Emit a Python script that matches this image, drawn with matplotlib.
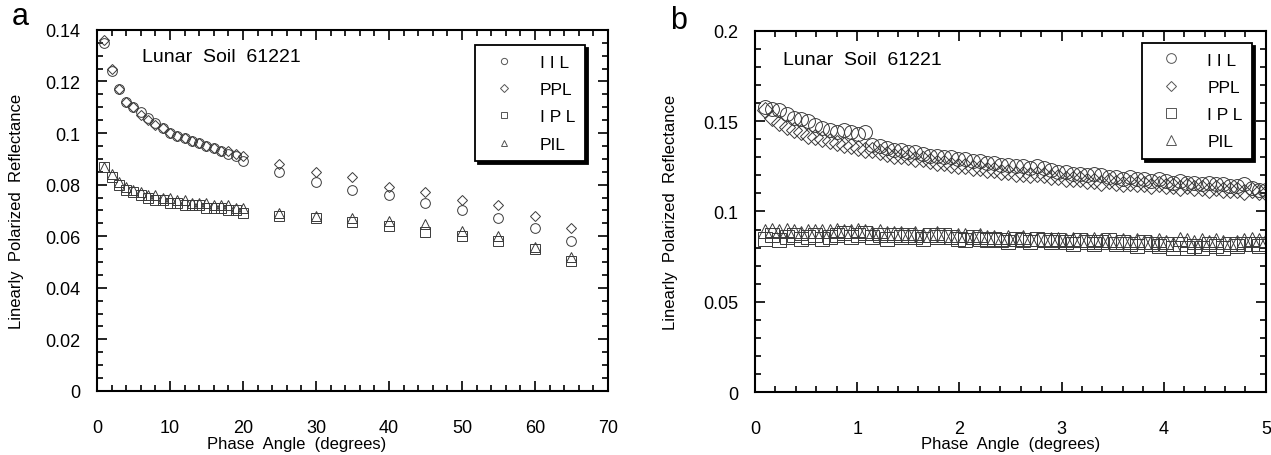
import numpy as np
import matplotlib.pyplot as plt
from matplotlib.lines import Line2D
from matplotlib.ticker import MultipleLocator, FuncFormatter

plt.rcParams['font.family'] = ['Liberation Sans', 'DejaVu Sans']

# ---- panel a data (phase angle 1..20 and 25..65 deg)
phase_a = [1, 2, 3, 4, 5, 6, 7, 8, 9, 10, 11, 12, 13, 14, 15, 16, 17, 18, 19, 20,
           25, 30, 35, 40, 45, 50, 55, 60, 65]
iil_a = [0.135, 0.124, 0.117, 0.112, 0.110, 0.108, 0.106, 0.104, 0.102, 0.100,
         0.099, 0.098, 0.097, 0.096, 0.095, 0.094, 0.093, 0.092, 0.091, 0.089,
         0.085, 0.081, 0.078, 0.076, 0.073, 0.070, 0.067, 0.063, 0.058]
ppl_a = [0.136, 0.125, 0.117, 0.112, 0.110, 0.107, 0.105, 0.103, 0.102, 0.100,
         0.099, 0.098, 0.097, 0.096, 0.095, 0.094, 0.093, 0.093, 0.092, 0.091,
         0.088, 0.085, 0.083, 0.079, 0.077, 0.074, 0.072, 0.068, 0.063]
ipl_a = [0.087, 0.083, 0.080, 0.078, 0.077, 0.076, 0.075, 0.074, 0.074, 0.073,
         0.073, 0.072, 0.072, 0.072, 0.071, 0.071, 0.071, 0.070, 0.070, 0.069,
         0.068, 0.067, 0.0655, 0.064, 0.0617, 0.060, 0.058, 0.055, 0.0505]
pil_a = [0.087, 0.084, 0.081, 0.079, 0.078, 0.077, 0.076, 0.076, 0.075, 0.075,
         0.074, 0.074, 0.073, 0.073, 0.073, 0.072, 0.072, 0.072, 0.071, 0.071,
         0.069, 0.068, 0.067, 0.066, 0.0648, 0.062, 0.060, 0.056, 0.052]

# ---- panel b data (phase angle 0.1..5 deg, regular sampling)
phase_b = np.linspace(0.1, 5.0, 71)
iil_b = [0.158, 0.157, 0.156, 0.154, 0.152, 0.151, 0.150, 0.148, 0.146, 0.145,
         0.144, 0.145, 0.144, 0.143, 0.144, 0.137, 0.136, 0.135, 0.134, 0.134,
         0.133, 0.133, 0.132, 0.131, 0.131, 0.130, 0.130, 0.129, 0.129, 0.128,
         0.128, 0.127, 0.127, 0.126, 0.126, 0.125, 0.125, 0.124, 0.125, 0.124,
         0.123, 0.122, 0.122, 0.121, 0.121, 0.120, 0.121, 0.120, 0.119, 0.119,
         0.118, 0.119, 0.118, 0.118, 0.117, 0.118, 0.117, 0.116, 0.117, 0.116,
         0.116, 0.115, 0.116, 0.115, 0.115, 0.114, 0.114, 0.115, 0.113, 0.112,
         0.112]
ppl_b = [0.156, 0.152, 0.149, 0.147, 0.145, 0.144, 0.142, 0.141, 0.140, 0.139,
         0.138, 0.137, 0.136, 0.135, 0.134, 0.134, 0.133, 0.132, 0.131, 0.131,
         0.130, 0.129, 0.129, 0.128, 0.127, 0.127, 0.126, 0.125, 0.125, 0.124,
         0.124, 0.123, 0.123, 0.122, 0.122, 0.121, 0.121, 0.120, 0.121, 0.120,
         0.119, 0.119, 0.118, 0.118, 0.118, 0.117, 0.117, 0.116, 0.117, 0.116,
         0.115, 0.116, 0.115, 0.115, 0.114, 0.115, 0.114, 0.114, 0.113, 0.114,
         0.113, 0.113, 0.112, 0.113, 0.112, 0.112, 0.112, 0.111, 0.112, 0.111,
         0.110]
ipl_b = [0.085, 0.087, 0.084, 0.086, 0.087, 0.085, 0.086, 0.087, 0.085, 0.086,
         0.087, 0.088, 0.086, 0.087, 0.088, 0.086, 0.087, 0.085, 0.087, 0.086,
         0.087, 0.086, 0.085, 0.087, 0.086, 0.087, 0.086, 0.085, 0.084, 0.086,
         0.085, 0.084, 0.085, 0.084, 0.083, 0.085, 0.084, 0.083, 0.085, 0.084,
         0.083, 0.084, 0.083, 0.082, 0.084, 0.083, 0.082, 0.083, 0.084, 0.082,
         0.083, 0.082, 0.081, 0.083, 0.082, 0.081, 0.082, 0.080, 0.082, 0.080,
         0.081, 0.080, 0.082, 0.081, 0.080, 0.082, 0.081, 0.082, 0.082, 0.081,
         0.082]
pil_b = [0.089, 0.090, 0.089, 0.090, 0.089, 0.088, 0.089, 0.089, 0.089, 0.089,
         0.090, 0.089, 0.089, 0.090, 0.089, 0.088, 0.089, 0.088, 0.088, 0.088,
         0.087, 0.088, 0.087, 0.087, 0.088, 0.087, 0.086, 0.087, 0.087, 0.086,
         0.087, 0.086, 0.086, 0.085, 0.086, 0.085, 0.086, 0.085, 0.085, 0.084,
         0.085, 0.085, 0.084, 0.085, 0.084, 0.084, 0.085, 0.084, 0.084, 0.083,
         0.084, 0.083, 0.084, 0.083, 0.083, 0.084, 0.083, 0.082, 0.085, 0.084,
         0.083, 0.084, 0.083, 0.084, 0.083, 0.082, 0.083, 0.084, 0.085, 0.084,
         0.084]

labels = ['I I L', 'PPL', 'I P L', 'PIL']
markers = ['o', 'D', 's', '^']
mscale = [1.0, 0.8, 0.95, 1.0]   # diamonds drawn a bit smaller
ec = '#3a3a3a'

fig = plt.figure(figsize=(12.71, 4.56), dpi=100)
ax_a = fig.add_axes([0.0763, 0.1404, 0.402, 0.792])
ax_b = fig.add_axes([0.594, 0.138, 0.402, 0.792])

fmt = FuncFormatter(lambda v, p: '%g' % round(v, 4))


def style(ax, xmaj, xmin, ymaj, ymin):
    ax.xaxis.set_major_locator(MultipleLocator(xmaj))
    ax.xaxis.set_minor_locator(MultipleLocator(xmin))
    ax.yaxis.set_major_locator(MultipleLocator(ymaj))
    ax.yaxis.set_minor_locator(MultipleLocator(ymin))
    ax.xaxis.set_major_formatter(fmt)
    ax.yaxis.set_major_formatter(fmt)
    ax.tick_params(which='both', direction='in', top=True, right=True, width=1.2)
    ax.tick_params(which='major', length=7)
    ax.tick_params(which='minor', length=4)
    ax.tick_params(axis='x', which='major', pad=20, labelsize=13)
    ax.tick_params(axis='y', which='major', pad=12, labelsize=13)
    for s in ax.spines.values():
        s.set_linewidth(1.5)
    ax.set_xlabel('Phase  Angle  (degrees)', fontsize=12, labelpad=0)
    ax.set_ylabel('Linearly  Polarized  Reflectance', fontsize=12)


def draw(ax, x, series, ms, legend_ms, anchor):
    for y, m, k in zip(series, markers, mscale):
        ax.plot(x, y, linestyle='none', marker=m, markersize=ms * k,
                markerfacecolor='none', markeredgecolor=ec, markeredgewidth=0.7)
    handles = [Line2D([], [], linestyle='none', marker=m, markersize=legend_ms * k,
                      markerfacecolor='none', markeredgecolor='#555555',
                      markeredgewidth=0.7)
               for m, k in zip(markers, mscale)]
    leg = ax.legend(handles, labels,
                    loc='upper right', bbox_to_anchor=anchor,
                    fontsize=12.5, frameon=True, fancybox=False,
                    shadow={'facecolor': 'black', 'edgecolor': 'black', 'alpha': 1},
                    edgecolor='black', framealpha=1, borderpad=0.55,
                    labelspacing=0.7, handletextpad=1.0, handlelength=2.2,
                    borderaxespad=0)
    leg.get_frame().set_linewidth(1.3)


# panel a
style(ax_a, 10, 2, 0.02, 0.005)
draw(ax_a, phase_a, [iil_a, ppl_a, ipl_a, pil_a], 7, 4.5, (0.955, 0.958))
ax_a.set_xlim(0, 70)
ax_a.set_ylim(0, 0.14)
ax_a.xaxis.set_label_coords(0.39, -0.125)
ax_a.yaxis.set_label_coords(-0.143, 0.5)
ax_a.text(0.088, 0.925, 'Lunar  Soil  61221', transform=ax_a.transAxes,
          fontsize=14, va='center', ha='left')
fig.text(0.0095, 0.962, 'a', fontsize=22, va='center', ha='left')

# panel b
style(ax_b, 1, 0.2, 0.05, 0.01)
draw(ax_b, phase_b, [iil_b, ppl_b, ipl_b, pil_b], 10, 7, (0.973, 0.967))
ax_b.set_xlim(0, 5)
ax_b.set_ylim(0, 0.2)
ax_b.xaxis.set_label_coords(0.5, -0.122)
ax_b.yaxis.set_label_coords(-0.151, 0.5)
ax_b.text(0.055, 0.922, 'Lunar  Soil  61221', transform=ax_b.transAxes,
          fontsize=14, va='center', ha='left')
fig.text(0.527, 0.955, 'b', fontsize=22, va='center', ha='left')

fig.savefig('out.png', dpi=100)
